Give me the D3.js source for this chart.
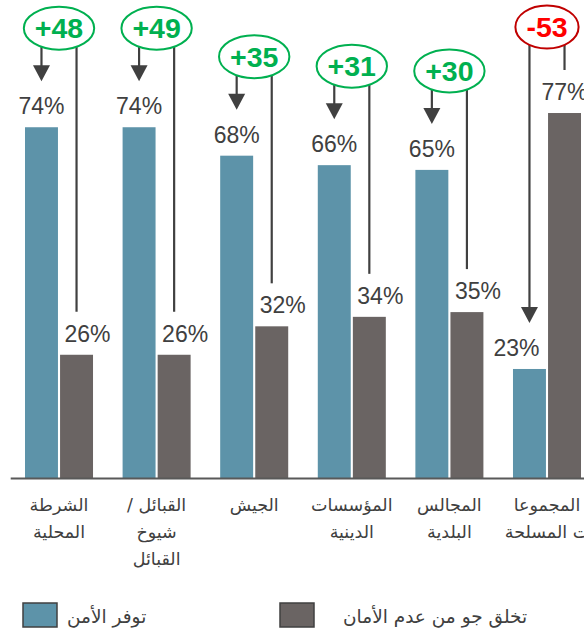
<!DOCTYPE html>
<html>
<head>
<meta charset="utf-8">
<script src="https://cdn.jsdelivr.net/npm/d3@7"></script>
<style>
  body { margin: 0; background: #fff; }
  svg { display: block; }
</style>
</head>
<body>
<div id="chart"></div>
<script>
const categories = ["الشرطة المحلية", "القبائل / شيوخ القبائل", "الجيش", "المؤسسات الدينية", "المجالس البلدية", "المجموعات المسلحة"];
const tickLines = [["الشرطة", "المحلية"], ["القبائل /", "شيوخ", "القبائل"], ["الجيش"], ["المؤسسات", "الدينية"], ["المجالس", "البلدية"], ["المجموعا", "ت المسلحة"]];
const safe = [74, 74, 68, 66, 65, 23];
const unsafe = [26, 26, 32, 34, 35, 77];
const diffs = [48, 49, 35, 31, 30, -53];
const seriesNames = ["توفر الأمن", "تخلق جو من عدم الأمان"];

const width = 584;
const height = 631;
const blue = "#5d93a9";
const gray = "#6a6463";
const ink = "#404040";

const svg = d3.select('#chart')
    .append('svg')
    .attr('width', width)
    .attr('height', height)

const x = d3.scaleBand()
    .domain(categories)
    .range([10.2, 595.8])
    .paddingInner(0.303)
    .paddingOuter(0.1516)

const xs = d3.scaleBand()
    .domain([0, 1])
    .range([0, x.bandwidth()])
    .paddingInner(0.06)

const y = d3.scaleLinear()
    .domain([0, 100])
    .range([478, 4])

const rows = categories.map((c, i) => ({
    cat: c, i: i, vals: [safe[i], unsafe[i]], diff: diffs[i]
}))

// bars
const groups = svg.selectAll('g.grp')
    .data(rows)
    .enter()
    .append('g')
    .attr('class', 'grp')
    .attr('transform', d => `translate(${x(d.cat)},0)`)

groups.selectAll('rect')
    .data(d => d.vals.map((v, k) => ({ k, v })))
    .enter()
    .append('rect')
    .attr('x', d => xs(d.k))
    .attr('y', d => y(d.v))
    .attr('width', xs.bandwidth())
    .attr('height', d => y(0) - y(d.v))
    .attr('fill', d => d.k === 0 ? blue : gray)

// value labels (the lower bar's label is pushed outward)
groups.each(function (d) {
    const g = d3.select(this)
    const lowIdx = d.vals[0] < d.vals[1] ? 0 : 1
    d.vals.forEach((v, k) => {
        let cx = xs(k) + xs.bandwidth() / 2
        if (k === lowIdx) cx += k === 0 ? -13 : 11
        g.append('text')
            .attr('x', cx)
            .attr('y', y(v) - 13)
            .attr('text-anchor', 'middle')
            .attr('font-family', 'Liberation Sans, Arial, sans-serif')
            .attr('font-size', 23)
            .attr('fill', ink)
            .text(v + '%')
    })
})

// difference callouts
groups.each(function (d) {
    const g = d3.select(this)
    const bx = xs(0) + xs.bandwidth() / 2
    const gx = xs(1) + xs.bandwidth() / 2
    const topLabel = y(Math.max(d.vals[0], d.vals[1])) - 29
    const cy = Math.max(topLabel - 70, 27)
    const cx = (bx + gx) / 2
    const tip = y(d.vals[0]) - 46
    const pos = d.diff > 0

    g.append('line')
        .attr('x1', bx).attr('x2', bx)
        .attr('y1', cy).attr('y2', tip - 14)
        .attr('stroke', ink).attr('stroke-width', 2.2)
    g.append('path')
        .attr('d', `M${bx - 8.5},${tip - 16}L${bx + 8.5},${tip - 16}L${bx},${tip}Z`)
        .attr('fill', ink)
    g.append('line')
        .attr('x1', gx).attr('x2', gx)
        .attr('y1', cy).attr('y2', y(d.vals[1]) - 43)
        .attr('stroke', ink).attr('stroke-width', 2.2)

    const ell = g.append('ellipse')
        .attr('cx', cx).attr('cy', cy)
        .attr('ry', 21.5)
        .attr('fill', '#fff')
        .attr('stroke', pos ? '#00b050' : '#c00000')
        .attr('stroke-width', 2)
    const t = g.append('text')
        .attr('x', cx)
        .attr('y', cy + 10)
        .attr('text-anchor', 'middle')
        .attr('font-family', 'Liberation Sans, Arial, sans-serif')
        .attr('font-weight', 'bold')
        .attr('font-size', 28.5)
        .attr('fill', pos ? '#00b050' : '#ff0000')
        .text((pos ? '+' : '') + d.diff)
    ell.attr('rx', t.node().getComputedTextLength() / 2 + 11)
})

// x axis
const xAxis = svg.append('g')
    .attr('transform', `translate(0,${y(0)})`)
    .call(d3.axisBottom(x).tickSize(0).tickSizeOuter(0))

xAxis.select('.domain')
    .attr('stroke', '#595959')
    .attr('stroke-width', 2)

xAxis.selectAll('.tick text')
    .attr('font-family', 'DejaVu Sans, sans-serif')
    .attr('font-size', 17.5)
    .attr('fill', ink)
    .attr('direction', 'rtl')
    .attr('y', 33)
    .attr('dy', null)
    .each(function (d, i) {
        const el = d3.select(this).text(null)
        tickLines[i].forEach((s, j) => {
            el.append('tspan')
                .attr('x', 0)
                .attr('y', 33 + j * 27)
                .text(s)
        })
    })

// legend
const legend = svg.selectAll('g.leg')
    .data(seriesNames)
    .enter()
    .append('g')
    .attr('class', 'leg')
    .attr('transform', (d, i) => `translate(${i === 0 ? 23 : 280},603)`)

legend.append('rect')
    .attr('width', 34)
    .attr('height', 24)
    .attr('fill', (d, i) => i === 0 ? blue : gray)
    .attr('stroke', ink)
    .attr('stroke-width', 1.5)

legend.append('text')
    .attr('x', (d, i) => i === 0 ? 44 : 63)
    .attr('y', 20)
    .attr('font-family', 'DejaVu Sans, sans-serif')
    .attr('font-size', 18.5)
    .attr('fill', ink)
    .text(d => d)
</script>
</body>
</html>
